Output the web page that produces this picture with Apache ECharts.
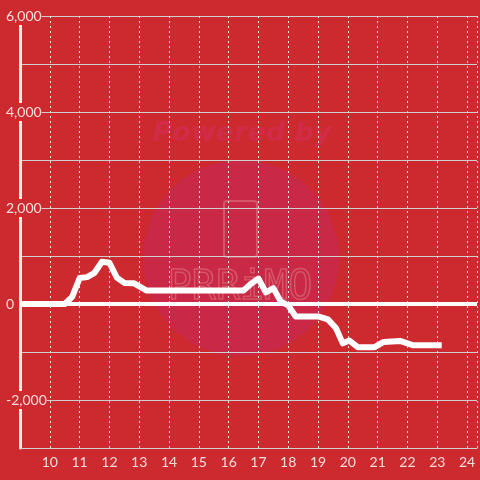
<!DOCTYPE html>
<html>
<head>
<meta charset="utf-8">
<script src="https://cdn.jsdelivr.net/npm/echarts@6/dist/echarts.min.js"></script>
<style>html,body{margin:0;padding:0;background:#cd2a2f;}#c{width:480px;height:480px;}</style>
</head>
<body>
<div id="c"></div>
<script>
const hours  = [9, 10.5, 10.75, 11.0, 11.25, 11.5, 11.75, 12.0, 12.25, 12.5, 12.83, 13.25, 16.5, 16.75, 17.0, 17.25, 17.5, 17.75, 18.0, 18.25, 19.0, 19.33, 19.6, 19.83, 20.05, 20.33, 20.9, 21.2, 21.75, 22.2, 23.15];
const values = [0, 0, 150, 540, 560, 650, 880, 860, 550, 440, 430, 280, 280, 420, 530, 240, 330, 50, -30, -260, -260, -320, -500, -820, -760, -900, -900, -790, -770, -860, -860];
const xTicks = [10, 11, 12, 13, 14, 15, 16, 17, 18, 19, 20, 21, 22, 23, 24];
const yLabelValues = [-2000, 0, 2000, 4000, 6000];

const chart = echarts.init(document.getElementById('c'), null, {renderer: 'canvas'});
const bg = '#cd2a2f';
const labelColor = '#f3dcdc';
chart.setOption({
  backgroundColor: bg,
  animation: false,
  grid: {left: 20, right: 0, top: 16, bottom: 32, containLabel: false},
  graphic: [
    {type: 'circle', shape: {cx: 241, cy: 258, r: 98}, style: {fill: '#c92947'}, z: -10, silent: true},
    {type: 'text', x: 242, y: 134, style: {text: 'Powered by', font: 'italic bold 27px "DejaVu Sans"', fill: '#d02b47', align: 'center', verticalAlign: 'middle'}, z: -10, silent: true},
    {type: 'rect', shape: {x: 224, y: 201, width: 33, height: 56, r: 3}, style: {fill: null, stroke: '#d45667', lineWidth: 2}, z: -9, silent: true},
    {type: 'text', x: 240, y: 289, style: {text: 'PRRiMO', font: '40px "DejaVu Sans Mono"', fill: null, stroke: '#d45667', lineWidth: 1.5, align: 'center', verticalAlign: 'middle'}, z: -9, silent: true}
  ],
  xAxis: {
    type: 'value', min: 9, max: 24.3333, interval: 1,
    axisLine: {show: true, onZero: false, lineStyle: {color: '#cfcfcf', width: 1}},
    axisTick: {show: false},
    axisLabel: {
      color: labelColor, fontSize: 14, fontFamily: 'Lato', margin: 7,
      showMinLabel: false,
      formatter: v => xTicks.indexOf(v) >= 0 ? String(v) : ''
    },
    splitLine: {show: true, lineStyle: {color: '#e6e6e6', width: 1, type: [2, 3]}}
  },
  yAxis: {
    type: 'value', min: -3000, max: 6000, interval: 1000,
    axisLine: {show: true, lineStyle: {color: '#eeeeee', width: 3}},
    axisTick: {show: false},
    axisLabel: {
      color: labelColor, fontSize: 14, fontFamily: 'Lato', align: 'left', margin: 14,
      backgroundColor: bg, padding: [2, 0, 2, 0],
      formatter: v => yLabelValues.indexOf(v) >= 0 ? v.toLocaleString('en-US') : ''
    },
    splitLine: {show: true, lineStyle: {color: '#cfcfcf', width: 1}}
  },
  series: [{
    type: 'line',
    data: hours.map((h, i) => [h, values[i]]),
    showSymbol: false,
    symbol: 'none',
    lineStyle: {color: '#ffffff', width: 6, join: 'round'},
    z: 3,
    markLine: {
      silent: true, symbol: 'none', label: {show: false},
      lineStyle: {color: '#ffffff', width: 4, type: 'solid'},
      data: [{yAxis: 0}]
    }
  }]
});
</script>
</body>
</html>
